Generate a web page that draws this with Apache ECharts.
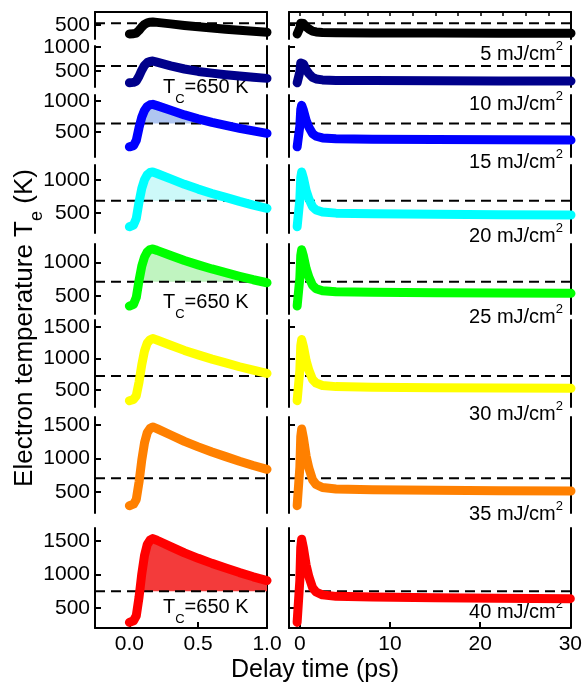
<!DOCTYPE html>
<html><head><meta charset="utf-8">
<script src="https://cdn.jsdelivr.net/npm/echarts@6/dist/echarts.min.js"></script>
<style>html,body{margin:0;padding:0;background:#fff}#c{width:585px;height:687px}</style>
</head><body><div id="c"></div>
<script>
// ---------------- DATA ----------------
const fluences = [5, 10, 15, 20, 25, 30, 35, 40]; // mJ/cm^2
const tcValue = 650;
// dashed Tc reference level as drawn in each row (K)
const tcLine = [537, 606, 638, 687, 713, 721, 704, 749];

// short-time window (ps)
const timesShort = [0.00,0.03,0.05,0.07,0.09,0.11,0.13,0.15,0.17,0.20,0.30,0.40,0.50,0.60,0.70,0.80,0.90,1.00];
const te5Short  = [311,316,331,387,458,514,547,560,565,556,524,491,463,436,412,388,367,347];
const te10Short = [257,266,293,393,519,619,677,700,709,687,608,543,493,457,425,396,371,349];
const te15Short = [263,283,365,570,740,850,911,938,945,924,850,775,712,655,606,560,518,479];
const te20Short = [292,317,416,665,872,1005,1080,1113,1121,1099,1016,934,862,796,736,675,620,571];
const te25Short = [351,377,479,734,946,1082,1159,1193,1201,1181,1105,1030,965,904,849,794,743,698];
const te30Short = [331,351,410,627,902,1119,1247,1296,1316,1294,1211,1128,1057,990,930,869,814,764];
const te35Short = [296,319,390,648,977,1235,1388,1447,1470,1445,1350,1255,1173,1097,1028,958,895,838];
const te40Short = [284,309,384,661,1012,1289,1452,1515,1540,1515,1420,1326,1244,1168,1099,1030,967,910];

// long-time window (ps)
const timesLong = [-0.3,-0.1,0.0,0.1,0.2,0.4,0.7,1.0,1.4,1.8,2.5,4,8,15,22,30];
const te5Long  = [311,311,438,540,565,531,462,416,372,353,342,336,334,331,328,326];
const te10Long = [257,257,483,668,709,648,527,446,370,337,317,307,303,299,296,293];
const te15Long = [263,263,597,863,930,849,687,579,476,433,406,393,386,380,375,371];
const te20Long = [292,292,707,1038,1121,1027,839,714,595,545,514,498,490,482,475,470];
const te25Long = [351,351,771,1106,1190,1096,907,781,661,610,579,563,557,550,545,540];
const te30Long = [331,331,816,1203,1300,1188,963,813,670,610,573,554,546,538,532,527];
const te35Long = [296,296,868,1326,1440,1305,1035,855,684,612,567,545,535,527,520,515];
const te40Long = [284,284,907,1401,1530,1401,1143,971,808,739,696,674,665,655,647,640];

// tick labels
const yTickValues = [[500],[500,1000],[500,1000],[500,1000],[500,1000],[500,1000,1500],[500,1000,1500],[500,1000,1500]];
const xTicksShort = [0.0, 0.5, 1.0];
const xTicksLong = [0, 10, 20, 30];
const xTopTicksLong = [0,2.5,5,7.5,10,12.5,15,17.5,20,22.5,25,27.5,30];
const tcLabelRows = [1, 4, 7];

// ---------------- LAYOUT / STYLE ----------------
const FONT = '"Liberation Sans", Arial, Helvetica, sans-serif';
const lineColors = ['#000000','#00008B','#0000FF','#00FFFF','#00FF00','#FFFF00','#FF8000','#FF0000'];
const fillColors = [null,'rgba(120,160,230,0.3)','#AFC6F0','#CDF9F9','#C0F4C0',null,null,'#F33B3B'];
const rowTop    = [12, 46, 95, 165, 244, 320, 417, 528];
const rowBottom = [39, 87, 157, 233, 314, 407, 513, 628];
const yMin = [205, 170, 100, 197, 232, 231, 187, 200];
const yMax = [775, 1020, 1095, 1227, 1276, 1610, 1619, 1698];
const colX = [[95, 267], [289, 571]];
const xRange = [[-0.25, 1.0], [-1.2, 30]];
const tcLabelY = [87, 302, 607];
const fluLabelY = [54, 104, 162, 236, 317, 414, 514, 612];

const shortSets = [te5Short,te10Short,te15Short,te20Short,te25Short,te30Short,te35Short,te40Short];
const longSets  = [te5Long,te10Long,te15Long,te20Long,te25Long,te30Long,te35Long,te40Long];

function fillOutline(times, vals, level) {
  const pts = [];
  let started = false, done = false;
  for (let i = 0; i < times.length && !done; i++) {
    const above = vals[i] > level;
    if (above && !started) {
      started = true;
      if (i > 0) {
        const f = (level - vals[i-1]) / (vals[i] - vals[i-1]);
        pts.push([times[i-1] + f * (times[i] - times[i-1]), level]);
      } else pts.push([times[i], level]);
    }
    if (started) {
      if (above) pts.push([times[i], vals[i]]);
      else {
        const f = (level - vals[i-1]) / (vals[i] - vals[i-1]);
        pts.push([times[i-1] + f * (times[i] - times[i-1]), level]);
        done = true;
      }
    }
  }
  if (started && !done) pts.push([times[times.length-1], level]);
  return pts;
}

const axisLineStyle = {color:'#000', width:2};
const grid = [], xAxis = [], yAxis = [], series = [];
for (let r = 0; r < 8; r++) {
  for (let c = 0; c < 2; c++) {
    const g = r * 2 + c;
    grid.push({left: colX[c][0], top: rowTop[r], width: colX[c][1] - colX[c][0], height: rowBottom[r] - rowTop[r], containLabel: false});
    const isBottom = r === 7;
    xAxis.push({
      gridIndex: g, type: 'value', position: 'bottom', min: xRange[c][0], max: xRange[c][1],
      axisLine: {show: isBottom, onZero: false, lineStyle: axisLineStyle},
      axisTick: {show: isBottom, inside: true, length: 6, lineStyle: axisLineStyle, customValues: c === 0 ? xTicksShort : xTicksLong},
      axisLabel: {show: isBottom, customValues: c === 0 ? xTicksShort : xTicksLong,
        formatter: c === 0 ? (v => Number(v).toFixed(1)) : (v => String(v)),
        color: '#000', fontSize: 21, fontFamily: FONT, margin: 6},
      splitLine: {show: false}
    });
    yAxis.push({
      gridIndex: g, type: 'value', position: 'left', min: yMin[r], max: yMax[r],
      axisLine: {show: true, onZero: false, lineStyle: axisLineStyle},
      axisTick: {show: true, inside: true, length: 6, lineStyle: axisLineStyle, customValues: yTickValues[r]},
      axisLabel: {show: c === 0, customValues: yTickValues[r], formatter: v => String(Math.round(v)),
        color: '#000', fontSize: 21, fontFamily: FONT, margin: 5},
      splitLine: {show: false}
    });
    yAxis.push({
      gridIndex: g, type: 'value', position: 'right', min: yMin[r], max: yMax[r],
      axisLine: {show: true, onZero: false, lineStyle: axisLineStyle},
      axisTick: {show: false}, axisLabel: {show: false}, splitLine: {show: false}
    });
    const times = c === 0 ? timesShort : timesLong;
    const vals = c === 0 ? shortSets[r] : longSets[r];
    // Tc dashed line
    series.push({
      type: 'line', xAxisIndex: g, yAxisIndex: 2 * g, z: 2, silent: true, animation: false,
      symbol: 'none', showSymbol: false,
      data: [[xRange[c][0], tcLine[r]], [xRange[c][1], tcLine[r]]],
      lineStyle: {color: '#000', width: 2, type: [10, 6]}
    });
    // fill above Tc
    if (c === 0 && fillColors[r]) {
      const outline = fillOutline(times, vals, tcLine[r]);
      const fc = fillColors[r];
      series.push({
        type: 'custom', xAxisIndex: g, yAxisIndex: 2 * g, z: 1, silent: true, animation: false, clip: true,
        data: [[times[0], tcLine[r]]],
        renderItem: (params, api) => ({
          type: 'polygon',
          shape: {points: outline.map(p => api.coord(p))},
          style: {fill: fc}
        })
      });
    }
    // curve
    series.push({
      type: 'line', xAxisIndex: g, yAxisIndex: 2 * g, z: 3, silent: true, animation: false,
      symbol: 'none', showSymbol: false,
      data: times.map((t, i) => [t, vals[i]]),
      lineStyle: {color: lineColors[r], width: 9, cap: 'round', join: 'round'}
    });
  }
}
// top frame for first row
for (let c = 0; c < 2; c++) {
  xAxis.push({
    gridIndex: c, type: 'value', position: 'top', min: xRange[c][0], max: xRange[c][1],
    axisLine: {show: true, onZero: false, lineStyle: axisLineStyle},
    axisTick: {show: c === 1, inside: true, length: 4, lineStyle: {color:'#000', width:1.5}, customValues: xTopTicksLong},
    axisLabel: {show: false}, splitLine: {show: false}
  });
}

const graphic = [];
graphic.push({
  type: 'text', x: 25, y: 328, rotation: Math.PI / 2,
  style: {
    text: '{m|Electron temperature T}{s|e}{m| (K)}',
    rich: {
      m: {fontSize: 26, lineHeight: 42, fontFamily: FONT, fill: '#000'},
      s: {fontSize: 18, lineHeight: 18, fontFamily: FONT, fill: '#000', verticalAlign: 'bottom'}
    },
    align: 'center', verticalAlign: 'middle', textAlign: 'center', textVerticalAlign: 'middle'
  }
});
graphic.push({
  type: 'text', x: 315, y: 670,
  style: {text: 'Delay time (ps)', fontSize: 25, fontFamily: FONT, fill: '#000',
    align: 'center', verticalAlign: 'middle', textAlign: 'center', textVerticalAlign: 'middle'}
});
tcLabelRows.forEach((r, i) => {
  graphic.push({
    type: 'text', x: 163, y: tcLabelY[i],
    style: {
      text: '{m|T}{s|C}{m|=' + tcValue + ' K}',
      rich: {
        m: {fontSize: 20, lineHeight: 37, fontFamily: FONT, fill: '#000'},
        s: {fontSize: 13, lineHeight: 13, fontFamily: FONT, fill: '#000', verticalAlign: 'bottom'}
      },
      align: 'left', verticalAlign: 'middle', textAlign: 'left', textVerticalAlign: 'middle'
    }
  });
});
fluences.forEach((f, r) => {
  graphic.push({
    type: 'text', x: 563, y: fluLabelY[r],
    style: {
      text: '{m|' + f + ' mJ/cm}{p|2}',
      rich: {
        m: {fontSize: 20, lineHeight: 28, fontFamily: FONT, fill: '#000'},
        p: {fontSize: 13, lineHeight: 13, fontFamily: FONT, fill: '#000', verticalAlign: 'top'}
      },
      align: 'right', verticalAlign: 'middle', textAlign: 'right', textVerticalAlign: 'middle'
    }
  });
});

const chart = echarts.init(document.getElementById('c'), null, {renderer: 'canvas'});
chart.setOption({
  animation: false,
  backgroundColor: '#fff',
  grid, xAxis, yAxis, series, graphic
});
</script>
</body></html>
